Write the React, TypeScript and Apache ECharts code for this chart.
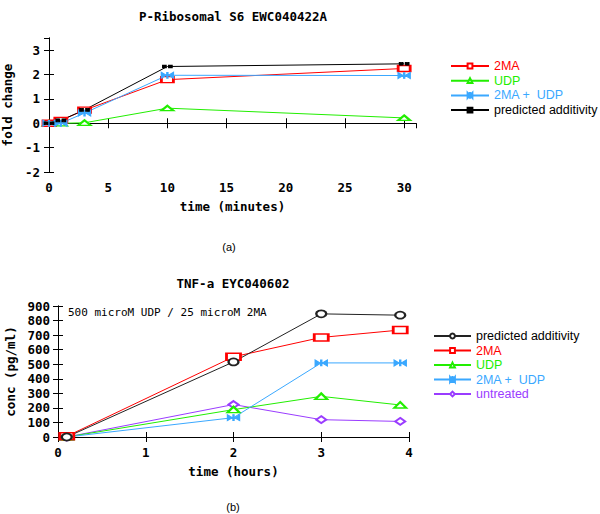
import React, { useEffect, useRef } from 'react';
import * as echarts from 'echarts';

// ---------- Data: chart (a) ----------
const timeA = [0, 1, 3, 10, 30];
const a2MA = [0, 0.12, 0.54, 1.79, 2.25];
const aUDP = [0, 0, 0.02, 0.62, 0.22];
const a2MAUDP = [0, 0, 0.42, 1.97, 1.96];
const aPred = [0, 0.12, 0.55, 2.33, 2.44];
const xTicksA = { min: 0, max: 31, interval: 5 };
const yTicksA = { min: -2, max: 3.5, interval: 1 };

// ---------- Data: chart (b) ----------
const timeB = [0.1, 2, 3, 3.9];
const bPred = [0, 516, 846, 837];
const b2MA = [5, 551, 684, 735];
const bUDP = [0, 188, 279, 220];
const b2MAUDP = [0, 133, 509, 509];
const bUntreated = [0, 223, 119, 107];
const xTicksB = { min: 0, max: 4, interval: 1 };
const yTicksB = { min: 0, max: 900, interval: 100 };

const MONO = '"DejaVu Sans Mono", monospace';
const SANS = '"Liberation Sans", Arial, sans-serif';

const RED = '#ff0000';
const GREEN = '#22ee00';
const BLUE = '#3aa8ff';
const PURPLE = '#9a3cff';
const BLACK = '#000000';

const BOWTIE = 'path://M0,0L5,3L0,6Z M12,0L7,3L12,6Z M5.5,0L6.5,0L6.5,6L5.5,6Z';
const DOTS = 'path://M0,0h3v3h-3z M6,0h3v3h-3z';

const zip = (xs: number[], ys: number[]) => xs.map((x, i) => [x, ys[i]]);

const tickLabel = {
  fontFamily: MONO,
  fontWeight: 'bold' as const,
  fontSize: 12.5,
  color: '#000',
};

function axes(
  xr: { min: number; max: number; interval: number },
  yr: { min: number; max: number; interval: number },
  xName: string,
  yName: string,
  yGap: number,
  yMargin: number
) {
  const line = { show: true, lineStyle: { color: '#000', width: 1 } };
  const tick = { show: true, inside: true, length: 5, lineStyle: { color: '#000', width: 1 } };
  const xAxis = [
    {
      type: 'value',
      ...xr,
      position: 'bottom',
      axisLine: line,
      axisTick: tick,
      splitLine: { show: false },
      axisLabel: { ...tickLabel, margin: 9, showMaxLabel: xr.max % xr.interval === 0 },
      name: xName,
      nameLocation: 'middle',
      nameGap: 28,
      nameTextStyle: { ...tickLabel },
    },
    {
      type: 'value',
      ...xr,
      position: 'top',
      axisLine: line,
      axisTick: tick,
      splitLine: { show: false },
      axisLabel: { show: false },
    },
  ];
  const yAxis = [
    {
      type: 'value',
      ...yr,
      position: 'left',
      axisLine: line,
      axisTick: tick,
      splitLine: { show: false },
      axisLabel: { ...tickLabel, margin: yMargin, showMaxLabel: yr.max % yr.interval === 0 },
      name: yName,
      nameLocation: 'middle',
      nameGap: yGap,
      nameTextStyle: { ...tickLabel },
    },
    {
      type: 'value',
      ...yr,
      position: 'right',
      axisLine: line,
      axisTick: tick,
      splitLine: { show: false },
      axisLabel: { show: false },
    },
  ];
  return { xAxis, yAxis };
}

function series(name: string, xs: number[], ys: number[], color: string, symbol: string, symbolSize: any) {
  return {
    type: 'line',
    name,
    data: zip(xs, ys),
    xAxisIndex: 0,
    yAxisIndex: 0,
    symbol,
    symbolSize,
    showSymbol: true,
    color,
    itemStyle: { color, borderColor: color, borderWidth: 1 },
    lineStyle: { color, width: 1 },
  };
}

const legendText = { fontFamily: SANS, fontSize: 12.5, lineHeight: 13 };

function optionA() {
  const { xAxis, yAxis } = axes(xTicksA, yTicksA, 'time (minutes)', 'fold change', 24, 9);
  return {
    animation: false,
    backgroundColor: '#fff',
    grid: { left: 49, top: 38, width: 367, height: 134, outerBoundsMode: 'none', containLabel: false },
    xAxis,
    yAxis,
    legend: {
      orient: 'vertical',
      left: 445,
      top: 54.5,
      itemWidth: 38,
      itemHeight: 6,
      itemGap: 1.7,
      selectedMode: false,
      textStyle: legendText,
      data: [
        { name: '2MA', textStyle: { color: RED } },
        { name: 'UDP', textStyle: { color: GREEN } },
        { name: '2MA +  UDP', textStyle: { color: BLUE } },
        { name: 'predicted additivity', textStyle: { color: BLACK } },
      ],
    },
    graphic: [
      {
        type: 'text',
        style: { x: 233, y: 16, text: 'P-Ribosomal S6 EWC040422A', align: 'center', verticalAlign: 'middle', font: `bold 12.5px ${MONO}`, fill: '#000' },
      },
      {
        type: 'text',
        style: { x: 229, y: 247, text: '(a)', align: 'center', verticalAlign: 'middle', font: `11px ${SANS}`, fill: '#000' },
      },
    ],
    series: [
      series('UDP', timeA, aUDP, GREEN, 'emptyTriangle', [12, 5]),
      series('2MA', timeA, a2MA, RED, 'emptyRect', [12, 6]),
      series('2MA +  UDP', timeA, a2MAUDP, BLUE, BOWTIE, [12, 6]),
      series('predicted additivity', timeA, aPred, BLACK, DOTS, [9, 3]),
    ],
  };
}

function optionB() {
  const { xAxis, yAxis } = axes(xTicksB, yTicksB, 'time (hours)', 'conc (pg/ml)', 32, 8);
  return {
    animation: false,
    backgroundColor: '#fff',
    grid: { left: 58, top: 49, width: 351, height: 131, outerBoundsMode: 'none', containLabel: false },
    xAxis,
    yAxis,
    legend: {
      orient: 'vertical',
      left: 428,
      top: 67.5,
      itemWidth: 37,
      itemHeight: 6,
      itemGap: 1.5,
      selectedMode: false,
      textStyle: legendText,
      data: [
        { name: 'predicted additivity', textStyle: { color: BLACK } },
        { name: '2MA', textStyle: { color: RED } },
        { name: 'UDP', textStyle: { color: GREEN } },
        { name: '2MA +  UDP', textStyle: { color: BLUE } },
        { name: 'untreated', textStyle: { color: PURPLE } },
      ],
    },
    graphic: [
      {
        type: 'text',
        style: { x: 233, y: 26, text: 'TNF-a EYC040602', align: 'center', verticalAlign: 'middle', font: `bold 12.5px ${MONO}`, fill: '#000' },
      },
      {
        type: 'text',
        style: { x: 68, y: 55, text: '500 microM UDP / 25 microM 2MA', align: 'left', verticalAlign: 'middle', font: `11px ${MONO}`, fill: '#000' },
      },
      {
        type: 'text',
        style: { x: 233, y: 250, text: '(b)', align: 'center', verticalAlign: 'middle', font: `11px ${SANS}`, fill: '#000' },
      },
    ],
    series: [
      series('untreated', timeB, bUntreated, PURPLE, 'emptyDiamond', [10, 7]),
      series('UDP', timeB, bUDP, GREEN, 'emptyTriangle', [12, 6]),
      series('2MA +  UDP', timeB, b2MAUDP, BLUE, BOWTIE, [12, 6]),
      series('2MA', timeB, b2MA, RED, 'emptyRect', [14, 7]),
      series('predicted additivity', timeB, bPred, '#222222', 'emptyCircle', [10, 7]),
    ],
  };
}

function Chart({ option, top }: { option: any; top: number }) {
  const ref = useRef<HTMLDivElement>(null);
  useEffect(() => {
    if (!ref.current) return;
    const chart = echarts.init(ref.current, undefined, { renderer: 'svg' });
    chart.setOption(option);
    return () => chart.dispose();
  }, [option]);
  return <div ref={ref} style={{ position: 'absolute', left: 0, top, width: 600, height: 257 }} />;
}

const OPT_A = optionA();
const OPT_B = optionB();

export default function App() {
  return (
    <div style={{ position: 'absolute', left: 0, top: 0, width: 600, height: 514, background: '#fff' }}>
      <Chart option={OPT_A} top={0} />
      <Chart option={OPT_B} top={257} />
    </div>
  );
}
